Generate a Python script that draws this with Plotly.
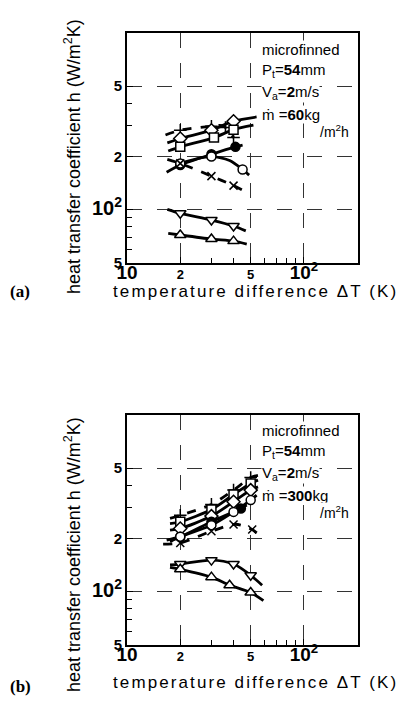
import plotly.graph_objects as go
import math

# ---------------- data ----------------
# axis units as labelled: 10, 2(=20), 5(=50), 10^2
x_tickvals = [10, 20, 50, 100]
x_ticktext = ["10", "2", "5", "10<sup>2</sup>"]
y_tickvals = [50, 100, 200, 500]
y_ticktext = ["5", "10<sup>2</sup>", "2", "5"]
x_minor = [30, 40, 60, 70, 80, 90]
y_minor = [60, 70, 80, 90, 300, 400]

# panel (a)  m = 60 kg/m2h
a_plus_x = [20, 30, 36, 40];      a_plus_y = [282, 297, 292, 256]
a_dia_x = [20, 30, 40];           a_dia_y = [253, 282, 317]
a_sq_x = [20, 31, 40];            a_sq_y = [227, 256, 284]
a_fc_x = [20, 30, 41];            a_fc_y = [179, 206, 227]
a_oc_x = [20, 30, 45];            a_oc_y = [183, 200, 169]
a_x_x = [20, 30, 40];             a_x_y = [183, 155, 137]
a_tdn_x = [20, 30, 40];           a_tdn_y = [95.5, 87.5, 81]
a_tup_x = [20, 30, 40];           a_tup_y = [72, 68.3, 66.5]

# hand-drawn fitted curves (a)
a_plus_cx = [16.5, 20, 30, 35, 40];       a_plus_cy = [265, 282, 297, 298, 256]
a_dia_cx = [16.9, 20, 30, 40, 54];        a_dia_cy = [239, 253, 282, 317, 335]
a_sq_cx = [17.1, 20, 31, 40, 51.8];       a_sq_cy = [215, 227, 256, 284, 301]
a_fc_cx = [16.75, 20, 30, 41, 45];        a_fc_cy = [163, 179, 206, 227, 232]
a_oc_cx = [20, 25, 30, 38, 45, 49];       a_oc_cy = [183, 195, 200, 190, 169, 157]
a_x_cx = [16.9, 20, 30, 40, 48.4];        a_x_cy = [193, 183, 155, 137, 124]
a_tdn_cx = [16.9, 20, 30, 40, 46.9];      a_tdn_cy = [100.6, 95.5, 87.5, 81, 76]
a_tup_cx = [17.1, 20, 30, 40, 47.5];      a_tup_cy = [73.6, 72, 68.3, 66.5, 64]

# panel (b)  m = 300 kg/m2h
b_plus_x = [20, 30, 40, 50];      b_plus_y = [271, 312, 376, 443]
b_sq_x = [20, 30, 40, 50];        b_sq_y = [249, 292, 355, 410]
b_dia_x = [20, 30, 40, 50];       b_dia_y = [228, 268, 323, 376]
b_fc_x = [20, 30, 44];            b_fc_y = [205, 249, 296]
b_oc_x = [20, 30, 40, 50];        b_oc_y = [205, 238, 283, 330]
b_x_x = [20, 30, 40, 51];         b_x_y = [189, 220, 240, 225]
b_tdn_x = [20, 30, 40, 50];       b_tdn_y = [143.5, 151, 143.5, 124]
b_tup_x = [20, 30, 38, 50];       b_tup_y = [134, 121, 109, 99]

b_plus_cx = [17.5, 20, 30, 40, 50, 55];   b_plus_cy = [260, 271, 312, 376, 443, 456]
b_sq_cx = [17.5, 20, 30, 40, 50, 55];     b_sq_cy = [243, 249, 292, 355, 410, 428]
b_dia_cx = [17.5, 20, 30, 40, 50, 55];    b_dia_cy = [223, 228, 268, 323, 376, 392]
b_fc_cx = [16.75, 20, 30, 44, 47.5];      b_fc_cy = [196, 205, 249, 296, 309]
b_oc_cx = [17.5, 20, 30, 40, 50, 54];     b_oc_cy = [192, 205, 238, 283, 330, 352]
b_x_cx = [16, 20, 30, 41, 51, 55];        b_x_cy = [186, 189, 220, 241, 225, 212]
b_tdn_cx = [17.5, 20, 30, 40, 50, 58];    b_tdn_cy = [142, 143.5, 151, 143.5, 124, 109]
b_tup_cx = [17.5, 20, 30, 38, 50, 59];    b_tup_cy = [137.5, 134, 121, 109, 99, 89]

# ---------------- figure ----------------
W, H = 398, 707
fig = go.Figure()

def px_x(p):
    return p / W

def px_y(p):
    return 1 - p / H

series_style = {
    "plus": dict(symbol="cross-thin-open", dash="dash", fill="black", size=9),
    "dia": dict(symbol="diamond", dash="solid", fill="white", size=10),
    "sq": dict(symbol="square", dash="solid", fill="white", size=9),
    "fc": dict(symbol="circle", dash="solid", fill="black", size=9),
    "oc": dict(symbol="circle", dash="solid", fill="white", size=9),
    "x": dict(symbol="x-thin-open", dash="dash", fill="black", size=8),
    "tdn": dict(symbol="triangle-down", dash="solid", fill="white", size=10),
    "tup": dict(symbol="triangle-up", dash="solid", fill="white", size=10),
}

def add_series(key, cx, cy, mx, my, xa, ya):
    st = series_style[key]
    fig.add_trace(go.Scatter(x=cx, y=cy, mode="lines", xaxis=xa, yaxis=ya,
                             line=dict(color="black", width=2.8, dash=st["dash"], shape="spline", smoothing=0.8),
                             showlegend=False, hoverinfo="skip"))
    fig.add_trace(go.Scatter(x=mx, y=my, mode="markers", xaxis=xa, yaxis=ya,
                             marker=dict(symbol=st["symbol"], size=st["size"], color=st["fill"],
                                         line=dict(color="black", width=1.5)),
                             showlegend=False))

A = [("plus", a_plus_cx, a_plus_cy, a_plus_x, a_plus_y),
     ("dia", a_dia_cx, a_dia_cy, a_dia_x, a_dia_y),
     ("sq", a_sq_cx, a_sq_cy, a_sq_x, a_sq_y),
     ("fc", a_fc_cx, a_fc_cy, a_fc_x, a_fc_y),
     ("oc", a_oc_cx, a_oc_cy, a_oc_x, a_oc_y),
     ("x", a_x_cx, a_x_cy, a_x_x, a_x_y),
     ("tdn", a_tdn_cx, a_tdn_cy, a_tdn_x, a_tdn_y),
     ("tup", a_tup_cx, a_tup_cy, a_tup_x, a_tup_y)]
B = [("plus", b_plus_cx, b_plus_cy, b_plus_x, b_plus_y),
     ("sq", b_sq_cx, b_sq_cy, b_sq_x, b_sq_y),
     ("dia", b_dia_cx, b_dia_cy, b_dia_x, b_dia_y),
     ("fc", b_fc_cx, b_fc_cy, b_fc_x, b_fc_y),
     ("oc", b_oc_cx, b_oc_cy, b_oc_x, b_oc_y),
     ("x", b_x_cx, b_x_cy, b_x_x, b_x_y),
     ("tdn", b_tdn_cx, b_tdn_cy, b_tdn_x, b_tdn_y),
     ("tup", b_tup_cx, b_tup_cy, b_tup_x, b_tup_y)]
for s in A:
    add_series(s[0], *s[1:], "x", "y")
for s in B:
    add_series(s[0], *s[1:], "x2", "y2")

NUM = "Liberation Sans Narrow, Liberation Sans, Arial"
def sized(t, big, small):
    return f'<span style="font-size:{big if t.startswith("10") else small}px">{t}</span>'
x_tt = [sized(t, 19, 13) for t in x_ticktext]
y_tt = [sized(t, 20, 15) for t in y_ticktext]

xdom = [px_x(127), px_x(358)]
xr = [1, math.log10(202)]
yr = [math.log10(50), 3.0]

def xaxis(anchor):
    return dict(type="log", range=xr, domain=xdom, anchor=anchor,
                tickmode="array", tickvals=x_tickvals, ticktext=x_tt,
                ticks="inside", ticklen=6, tickwidth=1.3, tickcolor="black",
                showline=True, linecolor="black", linewidth=2, mirror=True,
                showgrid=True, gridcolor="#333", gridwidth=0.8, griddash="longdash",
                zeroline=False, tickfont=dict(family=NUM, size=14, color="black", weight="bold"),
                ticklabelstandoff=-3,
                minor=dict(tickvals=x_minor, ticks="inside", ticklen=5, tickwidth=1.2,
                           tickcolor="black", showgrid=False),
                automargin=False)

def yaxis(anchor, dom):
    return dict(type="log", range=yr, domain=dom, anchor=anchor,
                tickmode="array", tickvals=y_tickvals, ticktext=y_tt,
                ticks="inside", ticklen=6, tickwidth=1.3, tickcolor="black",
                showline=True, linecolor="black", linewidth=2, mirror=True,
                showgrid=True, gridcolor="#333", gridwidth=0.8, griddash="longdash",
                zeroline=False, tickfont=dict(family=NUM, size=15, color="black", weight="bold"),
                minor=dict(tickvals=y_minor, ticks="inside", ticklen=5, tickwidth=1.2,
                           tickcolor="black", showgrid=False),
                automargin=False)

fig.update_layout(
    width=W, height=H, margin=dict(l=0, r=0, t=0, b=0),
    paper_bgcolor="white", plot_bgcolor="white",
    xaxis=xaxis("y"), yaxis=yaxis("x", [px_y(263), px_y(33)]),
    xaxis2=xaxis("y2"), yaxis2=yaxis("x2", [px_y(645), px_y(415)]),
)

TXT = "Liberation Sans, Arial"
ann = []
def label_block(top, mdot):
    lines = ["microfinned", "P<sub>t</sub>=<b>54</b>mm", "V<sub>a</sub>=<b>2</b>m/s", f"ṁ =<b>{mdot}</b>kg"]
    for i, t in enumerate(lines):
        ann.append(dict(x=px_x(261), y=px_y(top + i * 21.7), xref="paper", yref="paper",
                        xanchor="left", yanchor="middle", text=t, showarrow=False,
                        bgcolor="white", borderpad=0,
                        font=dict(family=TXT, size=15, color="black")))
    ann.append(dict(x=px_x(350), y=px_y(top + 3 * 21.7 + 17), xref="paper", yref="paper",
                    xanchor="right", yanchor="middle", text="/m<sup>2</sup>h", showarrow=False,
                    bgcolor="white", borderpad=0, font=dict(family=TXT, size=14, color="black")))

label_block(49, "60")
label_block(430, "300")

for yc, yt, lab in [(291, 157, "(a)"), (682, 555, "(b)")]:
    ann.append(dict(x=px_x(255), y=px_y(yc), xref="paper", yref="paper", xanchor="center",
                    yanchor="middle", showarrow=False,
                    text='<span style="letter-spacing:2.1px">temperature difference ΔT (K)</span>',
                    font=dict(family=TXT, size=17, color="black")))
    ann.append(dict(x=px_x(72), y=px_y(yt), xref="paper", yref="paper", xanchor="center",
                    yanchor="middle", showarrow=False, textangle=-90,
                    text="heat transfer coefficient h (W/m<sup>2</sup>K)",
                    font=dict(family=TXT, size=18, color="black")))
    ann.append(dict(x=px_x(20), y=px_y(yc + (0 if lab == "(a)" else 4)), xref="paper", yref="paper",
                    xanchor="center", yanchor="middle", showarrow=False, text=f"<b>{lab}</b>",
                    font=dict(family="Liberation Serif, Times New Roman", size=17, color="black")))

fig.update_layout(annotations=ann)
fig.write_html("out.html")
